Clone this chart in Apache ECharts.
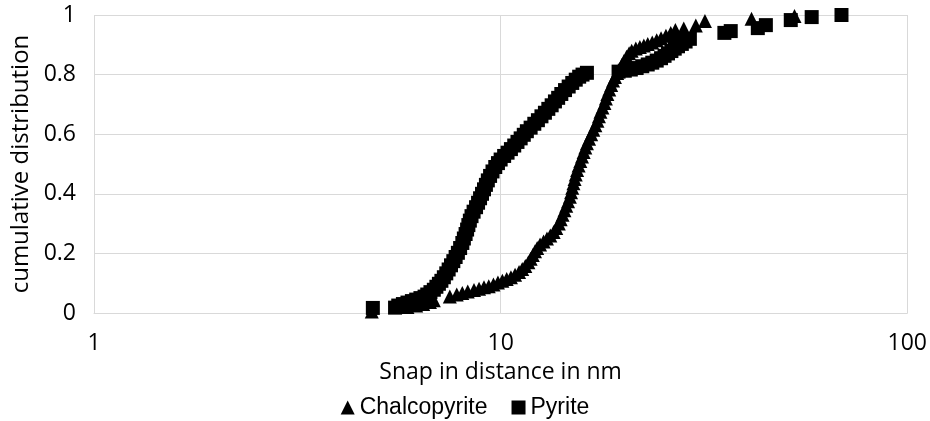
<!DOCTYPE html>
<html>
<head>
<meta charset="utf-8">
<script src="https://cdn.jsdelivr.net/npm/echarts@6/dist/echarts.min.js"></script>
<style>
html,body{margin:0;padding:0;background:#fff;}
#chart{width:930px;height:421px;}
</style>
</head>
<body>
<div id="chart"></div>
<script>
// Series names
const seriesNames = ['Chalcopyrite', 'Pyrite'];

// Chalcopyrite: [snap-in distance (nm), cumulative distribution]
const chalcopyrite = [
  [4.82,0.005],[5.9,0.02],[6.2,0.025],[6.45,0.03],[6.7,0.037],[6.85,0.043],[7.5,0.055],
  [7.8,0.062],[8.05,0.067],[8.3,0.072],[8.6,0.077],[8.85,0.081],[9.1,0.086],[9.35,0.09],
  [9.6,0.096],[9.85,0.102],[10.1,0.108],[10.35,0.114],[10.6,0.12],[10.85,0.128],[11.1,0.138],
  [11.3,0.148],[11.5,0.158],[11.7,0.17],[11.85,0.182],[12.0,0.195],[12.15,0.207],[12.3,0.218],
  [12.5,0.23],[12.75,0.24],[13.0,0.25],[13.25,0.26],[13.5,0.272],[13.7,0.285],[13.9,0.3],
  [14.05,0.315],[14.2,0.33],[14.35,0.345],[14.5,0.36],[14.65,0.375],[14.8,0.39],[14.9,0.405],
  [15.0,0.42],[15.1,0.435],[15.2,0.45],[15.3,0.465],[15.42,0.48],[15.55,0.495],[15.7,0.51],
  [15.85,0.525],[16.0,0.54],[16.15,0.555],[16.3,0.57],[16.5,0.585],[16.7,0.6],[16.9,0.615],
  [17.1,0.63],[17.3,0.645],[17.45,0.66],[17.6,0.675],[17.8,0.69],[18.0,0.705],[18.15,0.72],
  [18.3,0.735],[18.5,0.75],[18.7,0.765],[18.9,0.78],[19.1,0.792],[19.35,0.805],[19.6,0.818],
  [19.85,0.832],[20.1,0.846],[20.4,0.86],[20.7,0.872],[21.0,0.88],[21.5,0.888],[22.0,0.893],
  [22.5,0.898],[23.0,0.903],[23.6,0.908],[24.2,0.915],[24.8,0.922],[25.5,0.93],[26.2,0.94],
  [26.9,0.95],[28.2,0.955],[30.2,0.965],[31.8,0.98],[41.4,0.987],[52.8,0.997]
];

// Pyrite: [snap-in distance (nm), cumulative distribution]
const pyrite = [
  [4.85,0.017],[5.5,0.018],[5.6,0.025],[5.75,0.03],[5.9,0.035],[6.05,0.04],[6.2,0.045],
  [6.35,0.05],[6.5,0.055],[6.6,0.062],[6.72,0.07],[6.85,0.078],[6.95,0.088],[7.05,0.098],
  [7.15,0.108],[7.25,0.12],[7.35,0.133],[7.45,0.146],[7.55,0.16],[7.65,0.174],[7.75,0.188],
  [7.85,0.202],[7.95,0.218],[8.05,0.235],[8.12,0.25],[8.2,0.265],[8.27,0.28],[8.33,0.295],
  [8.4,0.31],[8.48,0.325],[8.58,0.34],[8.7,0.355],[8.8,0.37],[8.9,0.385],[9.0,0.4],
  [9.1,0.415],[9.2,0.43],[9.3,0.445],[9.42,0.46],[9.55,0.475],[9.7,0.49],[9.85,0.503],
  [10.0,0.515],[10.2,0.527],[10.4,0.538],[10.6,0.55],[10.8,0.562],[11.0,0.574],[11.2,0.586],
  [11.4,0.598],[11.6,0.61],[11.85,0.622],[12.1,0.635],[12.35,0.647],[12.6,0.66],[12.85,0.672],
  [13.1,0.685],[13.35,0.697],[13.6,0.71],[13.85,0.722],[14.1,0.735],[14.4,0.748],[14.7,0.76],
  [15.0,0.772],[15.3,0.783],[15.6,0.793],[15.9,0.8],[16.3,0.806],
  [19.5,0.81],[20.2,0.813],[20.9,0.817],[21.6,0.822],[22.3,0.828],[23.0,0.834],[23.6,0.84],
  [24.2,0.847],[24.8,0.855],[25.3,0.863],[25.8,0.871],[26.3,0.879],[26.8,0.887],[27.3,0.895],
  [27.9,0.903],[28.5,0.911],[29.2,0.92],
  [35.5,0.94],[36.8,0.946],[42.9,0.956],[44.9,0.966],[51.7,0.983],[58.2,0.993],[68.9,1.0]
];

// Axis ticks
const xTickLabels = ['1', '10', '100'];
const yTickValues = [0, 0.2, 0.4, 0.6, 0.8, 1];

const axisFont = "'Open Sans', sans-serif";
const legendFont = "'Liberation Sans', Arial, sans-serif";
const gridColor = '#d9d9d9';

const chart = echarts.init(document.getElementById('chart'), null, {renderer: 'canvas'});
chart.setOption({
  animation: false,
  backgroundColor: '#fff',
  grid: {left: 94, right: 19, top: 15, bottom: 108, containLabel: false},
  legend: {
    data: seriesNames,
    left: 'center',
    top: 391,
    itemWidth: 14,
    itemHeight: 14,
    itemGap: 24,
    textStyle: {fontFamily: legendFont, fontSize: 23, color: '#000'}
  },
  xAxis: {
    type: 'log',
    logBase: 10,
    min: Number(xTickLabels[0]),
    max: Number(xTickLabels[xTickLabels.length - 1]),
    name: 'Snap in distance in nm',
    nameLocation: 'middle',
    nameGap: 48,
    nameTextStyle: {fontFamily: axisFont, fontSize: 23, color: '#000'},
    axisLine: {show: true, lineStyle: {color: gridColor, width: 1}},
    axisTick: {show: false},
    axisLabel: {fontFamily: axisFont, fontSize: 23, color: '#000', margin: 19},
    splitLine: {show: true, lineStyle: {color: gridColor, width: 1}}
  },
  yAxis: {
    type: 'value',
    min: yTickValues[0],
    max: yTickValues[yTickValues.length - 1],
    interval: yTickValues[1] - yTickValues[0],
    name: 'cumulative distribution',
    nameLocation: 'middle',
    nameRotate: 90,
    nameGap: 52,
    nameTextStyle: {fontFamily: axisFont, fontSize: 24, color: '#000'},
    axisLine: {show: false},
    axisTick: {show: false},
    axisLabel: {fontFamily: axisFont, fontSize: 23, color: '#000', margin: 18},
    splitLine: {show: true, lineStyle: {color: gridColor, width: 1}}
  },
  series: [
    {
      name: seriesNames[0],
      type: 'scatter',
      data: chalcopyrite,
      symbol: 'triangle',
      symbolSize: 14,
      itemStyle: {color: '#000', opacity: 1}
    },
    {
      name: seriesNames[1],
      type: 'scatter',
      data: pyrite,
      symbol: 'rect',
      symbolSize: 14,
      itemStyle: {color: '#000', opacity: 1}
    }
  ]
});
</script>
</body>
</html>
